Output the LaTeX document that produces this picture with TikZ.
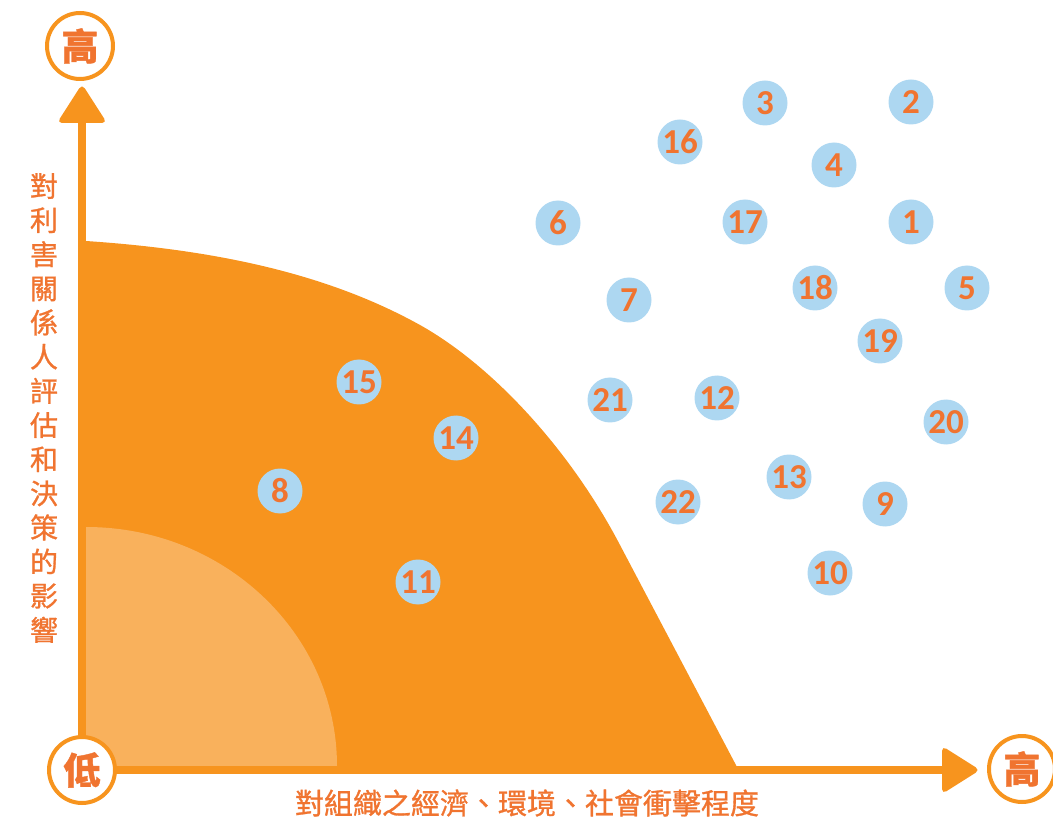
\documentclass[tikz,border=0pt]{standalone}
\usepackage{fontspec}
\newfontfamily\cjk{Noto Sans CJK TC}[FakeBold=1]
\newfontfamily\numfont{Carlito}
\definecolor{axisor}{HTML}{F7941E}
\definecolor{lightor}{HTML}{F9B15C}
\definecolor{bubble}{HTML}{ADD7F1}
\definecolor{txtor}{HTML}{F07430}
\tikzset{
  bub/.style={circle, fill=bubble, minimum size=45pt, inner sep=0pt, text=txtor,
    font=\numfont\bfseries\fontsize{35}{35}\selectfont},
  endcirc/.style={circle, draw=axisor, line width=4pt, fill=white, minimum size=66pt, inner sep=0pt,
    text=txtor, font=\cjk\bfseries\fontsize{37}{37}\selectfont},
  axisline/.style={draw=axisor, line width=8.5pt},
}
\begin{document}
\begin{tikzpicture}[x=1pt,y=-1pt]
\useasboundingbox (0,0) rectangle (1053,818);
% main orange region
\fill[axisor] (82,241) -- (86,241)
  .. controls (220,250) and (330,275) .. (420,325)
  .. controls (495,367) and (572,453) .. (620,545)
  -- (737,767) -- (737,770) -- (82,770) -- cycle;
% light orange quarter
\fill[lightor] (86,766) -- (86,527) arc[start angle=90, end angle=0, x radius=251, y radius=-239] -- cycle;
% axes
\coordinate (origin) at (82,770);
\coordinate (ytop) at (82,120);
\coordinate (xend) at (946,770);
\draw[axisline] (origin) -- (ytop);
\draw[axisline] (origin) -- (xend);
\fill[axisor, rounded corners=5pt] (82,84) -- (107,123) -- (57,123) -- cycle;
\fill[axisor, rounded corners=5pt] (980,770) -- (942,746) -- (942,794) -- cycle;
% end circles
\node[endcirc] (high-y) at (80,46) {高};
\node[endcirc] (low) at (82,770) {低};
\node[endcirc] (high-x) at (1022,769) {高};
% axis labels
\node[text=txtor, align=center, inner sep=0pt, font=\cjk\fontsize{28}{34.15}\selectfont] (ylab) at (44,408)
  {對\\利\\害\\關\\係\\人\\評\\估\\和\\決\\策\\的\\影\\響};
\node[text=txtor, inner sep=0pt, font=\cjk\fontsize{29}{29}\selectfont] (xlab) at (527,803)
  {對組織之經濟、環境、社會衝擊程度};
% bubbles
\node[bub] (n1) at (911,222) {1};
\node[bub] (n2) at (911,102) {2};
\node[bub] (n3) at (765,103) {3};
\node[bub] (n4) at (834,165) {4};
\node[bub] (n5) at (967,288) {5};
\node[bub] (n6) at (558,223) {6};
\node[bub] (n7) at (629,300) {7};
\node[bub] (n8) at (280,491) {8};
\node[bub] (n9) at (885,504) {9};
\node[bub] (n10) at (830,573) {10};
\node[bub] (n11) at (418,582) {11};
\node[bub] (n12) at (717,398) {12};
\node[bub] (n13) at (789,477) {13};
\node[bub] (n14) at (456,438) {14};
\node[bub] (n15) at (359,382) {15};
\node[bub] (n16) at (680,142) {16};
\node[bub] (n17) at (745,222) {17};
\node[bub] (n18) at (815,288) {18};
\node[bub] (n19) at (880,341) {19};
\node[bub] (n20) at (946,422) {20};
\node[bub] (n21) at (610,400) {21};
\node[bub] (n22) at (678,502) {22};
\end{tikzpicture}
\end{document}
